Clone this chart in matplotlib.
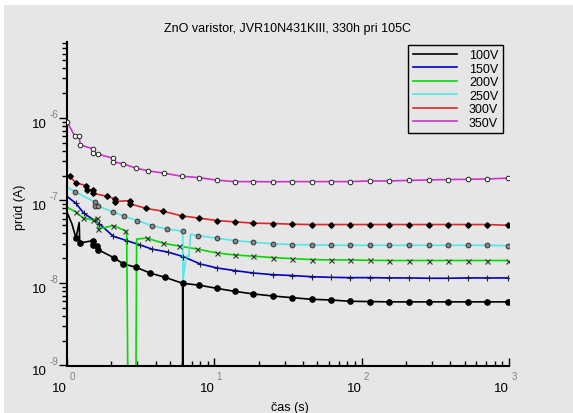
import numpy as np
import matplotlib
matplotlib.use('Agg')
import matplotlib.pyplot as plt
from matplotlib.lines import Line2D
from matplotlib.patches import Rectangle
from matplotlib.ticker import NullFormatter, LogLocator

plt.rcParams['font.family'] = ['Liberation Sans', 'DejaVu Sans']

BG = '#e6e6e6'

# shared time grid for the slow part of the measurement (s)
t_late = [10.4, 13.8, 18.4, 24.9, 33.9, 45.8, 62, 83, 114, 154, 210, 287, 386, 524, 711, 980]

# early points with markers
t_100 = [1.15, 1.22, 1.51, 1.51, 1.59, 1.63, 2.09, 2.41, 2.94, 3.66, 4.63, 6.1, 7.9]
i_100 = [3.5e-8, 3.05e-8, 3.26e-8, 2.89e-8, 2.79e-8, 2.53e-8, 2.01e-8, 1.7e-8, 1.55e-8, 1.32e-8, 1.17e-8, 9.9e-9, 9.4e-9]
t_150 = [1.15, 1.3, 1.66, 2.06, 2.54, 3.13, 3.75, 4.87, 6.17, 8.0]
i_150 = [9.2e-8, 7.0e-8, 5.2e-8, 3.68e-8, 3.26e-8, 2.89e-8, 2.58e-8, 2.36e-8, 2.08e-8, 1.7e-8]
t_200 = [1.15, 1.29, 1.51, 1.59, 1.63, 2.06, 2.48, 3.47, 4.5, 5.8, 7.6]
i_200 = [7.2e-8, 6.1e-8, 5.8e-8, 6.1e-8, 4.5e-8, 4.95e-8, 4.3e-8, 3.5e-8, 3.03e-8, 2.79e-8, 2.58e-8]
t_250 = [1.13, 1.55, 1.55, 1.63, 2.04, 2.45, 3.0, 3.79, 4.75, 6.1, 7.8]
i_250 = [1.28e-7, 9.5e-8, 8.5e-8, 8.5e-8, 7.3e-8, 6.4e-8, 5.7e-8, 4.95e-8, 4.5e-8, 4.24e-8, 3.74e-8]
t_300 = [1.04, 1.15, 1.35, 1.36, 1.49, 1.49, 1.88, 2.12, 2.12, 2.68, 2.68, 3.44, 4.47, 6.0, 7.9]
i_300 = [1.96e-7, 1.63e-7, 1.51e-7, 1.35e-7, 1.35e-7, 1.22e-7, 1.12e-7, 1.04e-7, 9.7e-8, 9.95e-8, 9.1e-8, 8.0e-8, 7.4e-8, 6.5e-8, 6.1e-8]
t_350 = [1.0, 1.13, 1.21, 1.23, 1.51, 1.51, 1.63, 2.04, 2.04, 2.41, 2.94, 3.56, 4.55, 6.01, 7.87]
i_350 = [9.0e-7, 6.0e-7, 6.0e-7, 4.7e-7, 4.2e-7, 3.73e-7, 3.63e-7, 3.25e-7, 2.95e-7, 2.77e-7, 2.46e-7, 2.28e-7, 2.14e-7, 1.96e-7, 1.89e-7]

# late values on t_late
late_100 = [8.6e-9, 7.9e-9, 7.36e-9, 6.95e-9, 6.63e-9, 6.34e-9, 6.22e-9, 6.0e-9, 5.95e-9, 5.9e-9, 5.9e-9, 5.9e-9, 5.9e-9, 5.9e-9, 5.9e-9, 5.9e-9]
late_150 = [1.52e-8, 1.41e-8, 1.32e-8, 1.26e-8, 1.23e-8, 1.19e-8, 1.17e-8, 1.16e-8, 1.16e-8, 1.15e-8, 1.15e-8, 1.14e-8, 1.14e-8, 1.15e-8, 1.15e-8, 1.15e-8]
late_200 = [2.31e-8, 2.18e-8, 2.11e-8, 2.03e-8, 1.97e-8, 1.92e-8, 1.9e-8, 1.9e-8, 1.88e-8, 1.87e-8, 1.87e-8, 1.87e-8, 1.87e-8, 1.87e-8, 1.87e-8, 1.87e-8]
late_250 = [3.48e-8, 3.26e-8, 3.11e-8, 2.99e-8, 2.91e-8, 2.9e-8, 2.86e-8, 2.86e-8, 2.86e-8, 2.86e-8, 2.86e-8, 2.86e-8, 2.86e-8, 2.86e-8, 2.86e-8, 2.83e-8]
late_300 = [5.7e-8, 5.5e-8, 5.3e-8, 5.25e-8, 5.15e-8, 5.1e-8, 5.1e-8, 5.1e-8, 5.1e-8, 5.1e-8, 5.1e-8, 5.1e-8, 5.1e-8, 5.1e-8, 5.1e-8, 5.0e-8]
late_350 = [1.76e-7, 1.69e-7, 1.69e-7, 1.68e-7, 1.69e-7, 1.69e-7, 1.69e-7, 1.69e-7, 1.72e-7, 1.72e-7, 1.75e-7, 1.77e-7, 1.79e-7, 1.8e-7, 1.82e-7, 1.86e-7]

# line-only points (starts, glitches)
tx_100 = [1.0, 1.08, 1.21, 6.1, 6.1]
ix_100 = [7.2e-8, 5.2e-8, 5.4e-8, 1e-10, 9.9e-9]
tx_150 = [1.0]
ix_150 = [1.12e-7]
tx_200 = [1.0, 2.54, 2.61, 2.92, 2.97]
ix_200 = [8.3e-8, 4.2e-8, 1e-10, 1e-10, 3.4e-8]
tx_250 = [1.0, 6.13, 6.43, 6.73, 6.89]
ix_250 = [1.45e-7, 1.07e-8, 2.1e-8, 2.1e-8, 3.9e-8]
tx_300 = [1.0]
ix_300 = [2.0e-7]
tx_350 = []
ix_350 = []

labels = ['100V', '150V', '200V', '250V', '300V', '350V']
colors = ['#000000', '#0000c8', '#00dc00', '#50e8e8', '#dc2828', '#cc33cc']

fig = plt.figure(figsize=(5.73, 4.14), dpi=100, facecolor='white')
fig.patches.append(Rectangle((4 / 573, 0), 1, (414 - 6) / 414, transform=fig.transFigure,
                             facecolor=BG, edgecolor='none', zorder=-10))
ax = fig.add_axes([67 / 573, 47.5 / 414, 442 / 573, 323.5 / 414])
ax.set_facecolor(BG)

series = [
    (t_100, i_100, late_100, tx_100, ix_100, dict(marker='o', ms=3.8, mfc='k', mec='k')),
    (t_150, i_150, late_150, tx_150, ix_150, dict(marker='+', ms=4.5, mfc='none', mec='#202040', mew=0.8)),
    (t_200, i_200, late_200, tx_200, ix_200, dict(marker='x', ms=3.6, mfc='none', mec='#303030', mew=0.8)),
    (t_250, i_250, late_250, tx_250, ix_250, dict(marker='o', ms=3.4, mfc='#8a8a8a', mec='#303030', mew=0.7)),
    (t_300, i_300, late_300, tx_300, ix_300, dict(marker='D', ms=2.8, mfc='k', mec='k')),
    (t_350, i_350, late_350, tx_350, ix_350, dict(marker='o', ms=3.3, mfc='white', mec='#202020', mew=0.7)),
]

for (te, ie, il, tx, ix, mk), col in zip(series, colors):
    tm = np.array(te + t_late)
    im = np.array(ie + il)
    tl = np.concatenate([tm, np.array(tx, dtype=float)])
    yl = np.concatenate([im, np.array(ix, dtype=float)])
    order = np.argsort(tl, kind='stable')
    ax.plot(tl[order], yl[order], color=col, lw=1.2, zorder=2)
    ax.plot(tm, im, ls='none', zorder=3, **mk)

ax.set_xscale('log')
ax.set_yscale('log')
ax.set_xlim(1, 1000)
ax.set_ylim(1e-9, 8.3e-6)
ax.yaxis.set_minor_locator(LogLocator(base=10, subs=np.arange(2, 10)))
ax.xaxis.set_minor_locator(LogLocator(base=10, subs=np.arange(2, 10)))
for a in (ax.xaxis, ax.yaxis):
    a.set_major_formatter(NullFormatter())
    a.set_minor_formatter(NullFormatter())
ax.tick_params(axis='x', which='major', direction='in', length=6, width=1)
ax.tick_params(axis='x', which='minor', direction='in', length=3.5, width=1)
ax.tick_params(axis='y', which='major', direction='out', length=6, width=1)
ax.tick_params(axis='y', which='minor', direction='out', length=3.5, width=1)
for s in ('top', 'right'):
    ax.spines[s].set_visible(False)
for s in ('left', 'bottom'):
    ax.spines[s].set_linewidth(1.5)

for d in [-9, -8, -7, -6]:
    ax.annotate('10', xy=(0, 10.0 ** d), xycoords=('axes fraction', 'data'),
                xytext=(-20, -6), textcoords='offset pixels', ha='right', va='center', fontsize=9.5)
    ax.annotate(str(d), xy=(0, 10.0 ** d), xycoords=('axes fraction', 'data'),
                xytext=(-17, 4), textcoords='offset pixels', ha='left', va='center',
                fontsize=7, color='#808080')
for d in [0, 1, 2, 3]:
    ax.annotate('10', xy=(10.0 ** d, 0), xycoords=('data', 'axes fraction'),
                xytext=(0, -22.5), textcoords='offset pixels', ha='right', va='center', fontsize=9.5)
    ax.annotate(str(d), xy=(10.0 ** d, 0), xycoords=('data', 'axes fraction'),
                xytext=(5, -10.5), textcoords='offset pixels', ha='center', va='center',
                fontsize=7, color='#808080')

fig.text(288 / 573, 1 - 29 / 414, 'ZnO varistor, JVR10N431KIII, 330h pri 105C',
         ha='center', va='center', fontsize=9)
fig.text(20 / 573, 1 - 207 / 414, 'prúd (A)', rotation=90, ha='center', va='center', fontsize=9)
fig.text(290 / 573, 1 - 408 / 414, 'čas (s)', ha='center', va='center', fontsize=9)

handles = [Line2D([], [], color=c, lw=1.2) for c in colors]
leg = ax.legend(handles, labels, loc='upper right', bbox_to_anchor=(0.986, 0.991),
                borderaxespad=0, fontsize=9, handlelength=3.5, handletextpad=1.0,
                labelspacing=0.12, borderpad=0.35, fancybox=False, framealpha=1)
leg.get_frame().set_facecolor(BG)
leg.get_frame().set_edgecolor('k')
leg.get_frame().set_linewidth(1)

fig.savefig('out.png', dpi=100, facecolor=fig.get_facecolor())
